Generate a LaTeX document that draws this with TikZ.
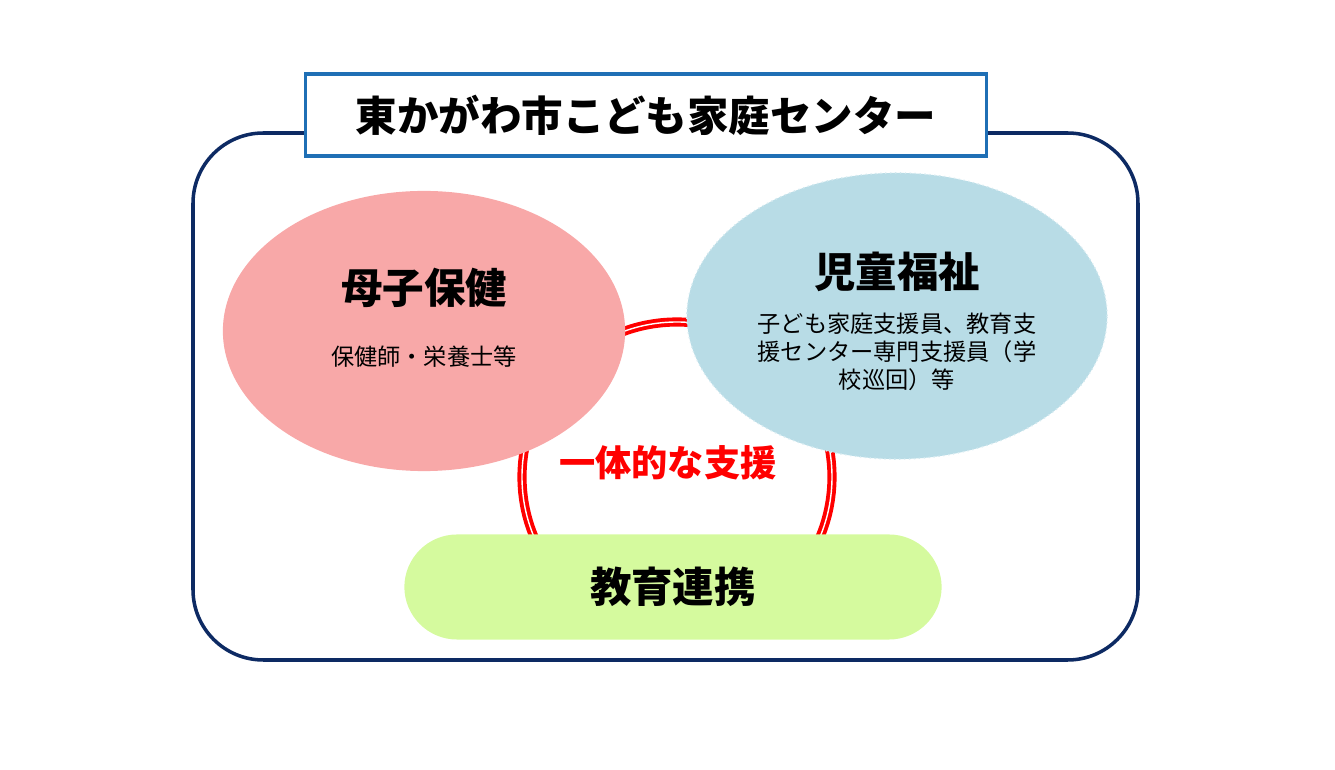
\documentclass[tikz,border=0pt]{standalone}
\usepackage{fontspec}
\newfontfamily\jp{Noto Sans CJK JP}
\usepackage{tikz}
\usetikzlibrary{calc,shapes.geometric}
\definecolor{navy}{HTML}{0D2A63}
\definecolor{titleblue}{HTML}{1F6FB5}
\definecolor{pinkfill}{HTML}{F8A8A8}
\definecolor{bluefill}{HTML}{B8DCE6}
\definecolor{greenfill}{HTML}{D5FA9E}
\begin{document}
\begin{tikzpicture}[x=0.01cm,y=-0.01cm]
\tikzstyle{every node}=[font=\jp]
\tikzstyle{bigtext}=[font=\jp\bfseries\fontsize{11.8}{14}\selectfont]
\tikzstyle{smalltext}=[font=\jp\fontsize{6.6}{8}\selectfont,align=center]
\useasboundingbox (0,0) rectangle (1335,770);
% frame
\draw[navy,line width=1pt,rounded corners=20pt] (193,133) rectangle (1138,660);
% red ring
\draw[red,line width=1.1pt,double=white,double distance=0.4pt] (677,477) circle (155);
% circles
\node[ellipse,fill=pinkfill,minimum width=4.02cm,minimum height=2.8cm,inner sep=0pt] (boshi) at (424,331) {};
\node[ellipse,fill=bluefill,draw=bluefill!60!white,densely dotted,minimum width=4.2cm,minimum height=2.86cm,inner sep=0pt] (jido) at (897,316) {};
\node[fill=greenfill,rounded corners=15pt,minimum width=5.37cm,minimum height=1.05cm] (kyoiku) at (673,587) {};
% texts
\node[bigtext] (boshit) at (424,288) {母子保健};
\node[smalltext] (boshis) at (424,357) {保健師・栄養士等};
\node[bigtext] (jidot) at (897,272) {児童福祉};
\node[smalltext] (jidos) at (897,352) {子ども家庭支援員、教育支\\援センター専門支援員（学\\校巡回）等};
\node[bigtext] (kyoikut) at (kyoiku) {教育連携};
\node[font=\jp\bfseries\fontsize{10.3}{12}\selectfont,text=red] (ittai) at (668,463) {一体的な支援};
% title
\node[draw=titleblue,line width=0.9pt,fill=white,minimum width=6.81cm,minimum height=0.82cm,bigtext] (title) at (646,115) {東かがわ市こども家庭センター};
\end{tikzpicture}
\end{document}
